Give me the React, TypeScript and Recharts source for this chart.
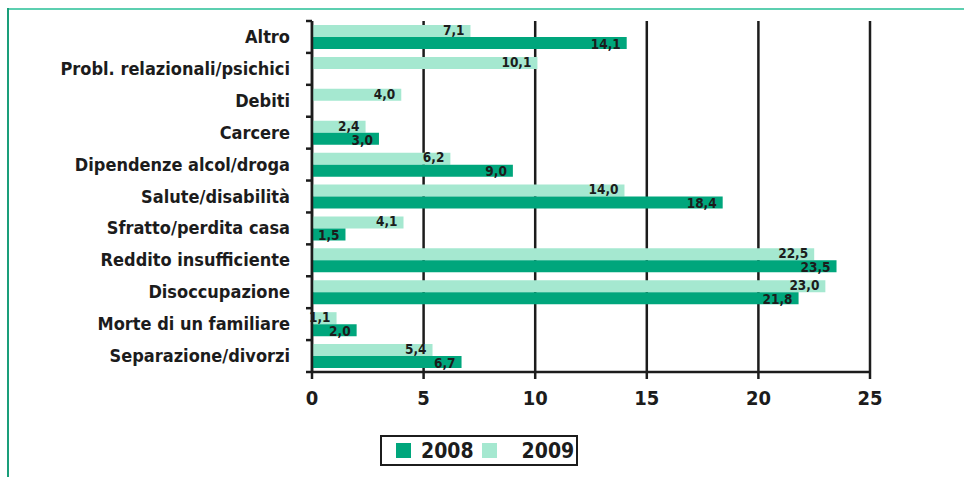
import { BarChart, Bar, XAxis, YAxis, CartesianGrid, LabelList } from 'recharts';

const categories = [
  'Altro',
  'Probl. relazionali/psichici',
  'Debiti',
  'Carcere',
  'Dipendenze alcol/droga',
  'Salute/disabilità',
  'Sfratto/perdita casa',
  'Reddito insufficiente',
  'Disoccupazione',
  'Morte di un familiare',
  'Separazione/divorzi',
];
const values2008 = [14.1, null, null, 3.0, 9.0, 18.4, 1.5, 23.5, 21.8, 2.0, 6.7];
const values2009 = [7.1, 10.1, 4.0, 2.4, 6.2, 14.0, 4.1, 22.5, 23.0, 1.1, 5.4];
const xTicks = [0, 5, 10, 15, 20, 25];

const data = categories.map((name, i) => ({ name, y2008: values2008[i], y2009: values2009[i] }));

const FONT = "'Liberation Sans Narrow', 'DejaVu Sans Condensed', 'Arial Narrow', sans-serif";
const DARK = '#00a67c';
const LIGHT = '#a5e8d0';
const INK = '#1c1c1c';

const W = 964;
const H = 477;
const PLOT_TOP = 21;
const PLOT_BOTTOM = 372;
const AXIS_W = 312;
const BAND = (PLOT_BOTTOM - PLOT_TOP) / categories.length;

const fmt = (v: any) => (v == null ? '' : Number(v).toFixed(1).replace('.', ','));

const CategoryTick = (props: any) => {
  const { x, y, payload, index } = props;
  const half = BAND / 2;
  return (
    <g>
      <text x={x - 22} y={y} dy={6} textAnchor="end" fontFamily={FONT} fontWeight={700} fontSize={18} fill={INK}>
        {payload.value}
      </text>
      <line x1={x - 6} x2={x} y1={y - half} y2={y - half} stroke={INK} strokeWidth={2.5} />
      {index === categories.length - 1 && (
        <line x1={x - 6} x2={x} y1={y + half} y2={y + half} stroke={INK} strokeWidth={2.5} />
      )}
    </g>
  );
};

const labelStyle = { fill: INK, fontFamily: FONT, fontWeight: 700, fontSize: 13.5 };

export default function App() {
  return (
    <div style={{ position: 'absolute', left: 0, top: 0, width: W, height: H, background: '#fff', overflow: 'hidden' }}>
      <div style={{ position: 'absolute', left: 7, top: 8, right: 0, height: 2, background: '#5ccfb0' }} />
      <div style={{ position: 'absolute', left: 7, top: 8, bottom: 0, width: 2, background: '#1a9e7a' }} />
      <BarChart
        width={W}
        height={H}
        data={data}
        layout="vertical"
        margin={{ top: PLOT_TOP, right: W - 870, left: 0, bottom: H - PLOT_BOTTOM - 40 }}
        barCategoryGap={4}
        barGap={0}
      >
        <CartesianGrid horizontal={false} stroke={INK} strokeWidth={2.5} ticks={xTicks} />
        <XAxis
          type="number"
          domain={[0, 25]}
          ticks={xTicks}
          height={40}
          tickSize={7}
          tickMargin={12}
          axisLine={{ stroke: INK, strokeWidth: 2.5 }}
          tickLine={{ stroke: INK, strokeWidth: 2.5 }}
          tick={{ fill: INK, fontFamily: FONT, fontWeight: 700, fontSize: 20 }}
        />
        <XAxis
          xAxisId="top"
          type="number"
          orientation="top"
          domain={[0, 25]}
          height={0}
          tick={false}
          tickLine={false}
          axisLine={{ stroke: INK, strokeWidth: 2.5 }}
        />
        <YAxis
          type="category"
          dataKey="name"
          width={AXIS_W}
          tickSize={0}
          tickMargin={0}
          tickLine={false}
          axisLine={{ stroke: INK, strokeWidth: 2.5 }}
          tick={<CategoryTick />}
          interval={0}
        />
        <Bar dataKey="y2009" fill={LIGHT} isAnimationActive={false}>
          <LabelList dataKey="y2009" position="insideRight" offset={6} dy={-1} formatter={fmt} style={labelStyle} />
        </Bar>
        <Bar dataKey="y2008" fill={DARK} isAnimationActive={false}>
          <LabelList dataKey="y2008" position="insideRight" offset={6} dy={1} formatter={fmt} style={labelStyle} />
        </Bar>
      </BarChart>
      <div
        style={{
          position: 'absolute', left: 380, top: 435, width: 194, height: 27,
          border: `2px solid ${INK}`, display: 'flex', alignItems: 'center',
          fontFamily: FONT, fontWeight: 700, fontSize: 21, color: INK,
        }}
      >
        <span style={{ width: 15, height: 15, background: DARK, marginLeft: 14 }} />
        <span style={{ marginLeft: 10 }}>2008</span>
        <span style={{ width: 15, height: 15, background: LIGHT, marginLeft: 8 }} />
        <span style={{ marginLeft: 25 }}>2009</span>
      </div>
    </div>
  );
}
